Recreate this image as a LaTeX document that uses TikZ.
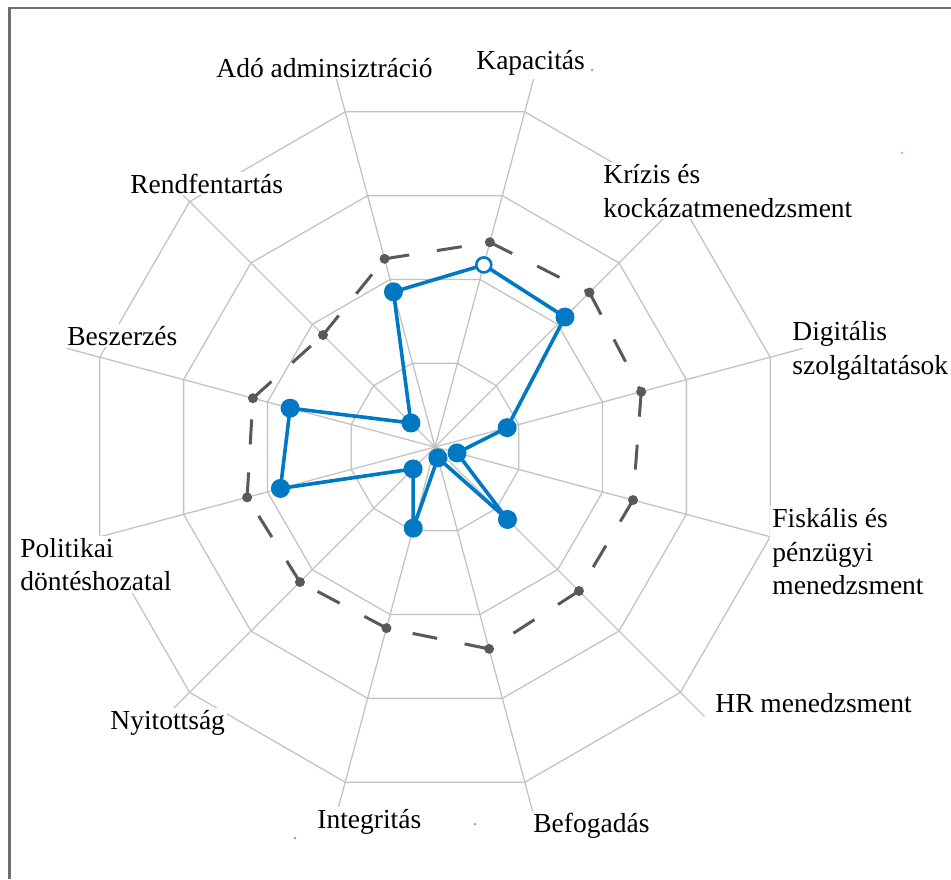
\documentclass[tikz,border=0pt]{standalone}
\usepackage{fontspec}
\setmainfont{Liberation Serif}
\usepackage{tikz}
\usetikzlibrary{calc, positioning}

\definecolor{chartblue}{RGB}{0,120,196}
\definecolor{benchgray}{RGB}{89,89,89}
\definecolor{gridgray}{RGB}{195,195,195}
\definecolor{framegray}{RGB}{110,110,110}

\begin{document}
\begin{tikzpicture}[
        x=0.5pt, y=0.5pt,
        font=\fontsize{13.75}{16.75}\selectfont,
        gridline/.style={draw=gridgray, line width=0.65pt},
        axislabel/.style={fill=white, inner sep=1pt, align=left},
        seriesline/.style={draw=chartblue, line width=1.8pt, line join=round},
        benchline/.style={draw=benchgray, line width=1.5pt, dash pattern=on 12.5pt off 14pt},
    ]

    \def\ring{86.75}
    \def\axislen{381}

    \useasboundingbox (-435,-432) rectangle (516,447);
    \draw[framegray, line width=1.1pt] (-425.5,-432) -- (-425.5,439) -- (516,439);

    \coordinate (o) at (0,0);
    \foreach \k in {1,...,4}
        \draw[gridline] (15:{\k*\ring}) \foreach \a in {45,75,...,345} { -- (\a:{\k*\ring}) } -- cycle;

    \foreach \a [count=\i] in {75,45,...,-255} {
        \coordinate (ax\i) at (\a:\axislen);
        \draw[gridline] (o) -- (ax\i);
    }

    \node[axislabel, anchor=base west] (kapacitas) at (39,378) {Kapacitás};
    \node[axislabel, anchor=north west] (krizis) at (166,285) {Krízis és\\kockázatmenedzsment};
    \node[axislabel, anchor=north west, fill=none] (digitalis) at (355,128) {Digitális\\szolgáltatások};
    \node[axislabel, anchor=north west] (fiskalis) at (335,-59) {Fiskális és\\pénzügyi\\menedzsment};
    \node[axislabel, anchor=base west] (hr) at (278,-265) {HR menedzsment};
    \node[axislabel, anchor=base west] (befogadas) at (96,-385) {Befogadás};
    \node[axislabel, anchor=base west] (integritas) at (-120,-381) {Integritás};
    \node[axislabel, anchor=base west] (nyitottsag) at (-327,-282) {Nyitottság};
    \node[axislabel, anchor=north west] (politikai) at (-417,-89) {Politikai\\döntéshozatal};
    \node[axislabel, anchor=base west] (beszerzes) at (-370,102) {Beszerzés};
    \node[axislabel, anchor=base west] (rendfentartas) at (-307,254) {Rendfentartás};
    \node[axislabel, anchor=base west] (ado) at (-221,370) {Adó adminsiztráció};

    % own score / benchmark, radius per axis
    \foreach \r/\s [count=\i] in {188.5/212, 183.8/218.5, 74.7/213.5, 22.8/205,
            102.5/203.6, 11.2/209, 84/187.5, 31/191, 160/194.5, 150/188.5,
            34/158.4, 160.6/194.8} {
        \pgfmathsetmacro{\a}{105-30*\i}
        \coordinate (b\i) at (\a:\r);
        \coordinate (g\i) at (\a:\s);
    }

    \foreach \i in {1,...,12} {
        \pgfmathtruncatemacro{\j}{mod(\i,12)+1}
        \draw[benchline] (g\i) -- (g\j);
    }
    \foreach \i in {1,...,12}
        \fill[benchgray] (g\i) circle[radius=5];

    \draw[seriesline] (b1) \foreach \i in {2,...,12} { -- (b\i) } -- cycle;
    \foreach \i in {2,...,12}
        \fill[chartblue] (b\i) circle[radius=9.5];
    \filldraw[fill=white, draw=chartblue, line width=1.3pt] (b1) circle[radius=7.5];

    \fill[gray!70] (157,377) circle[radius=1.5];
    \fill[chartblue!40] (467,294) circle[radius=1.5];
    \fill[gray!70] (-140,-391) circle[radius=1.5];
    \fill[gray!70] (40,-377) circle[radius=1.5];

\end{tikzpicture}
\end{document}
